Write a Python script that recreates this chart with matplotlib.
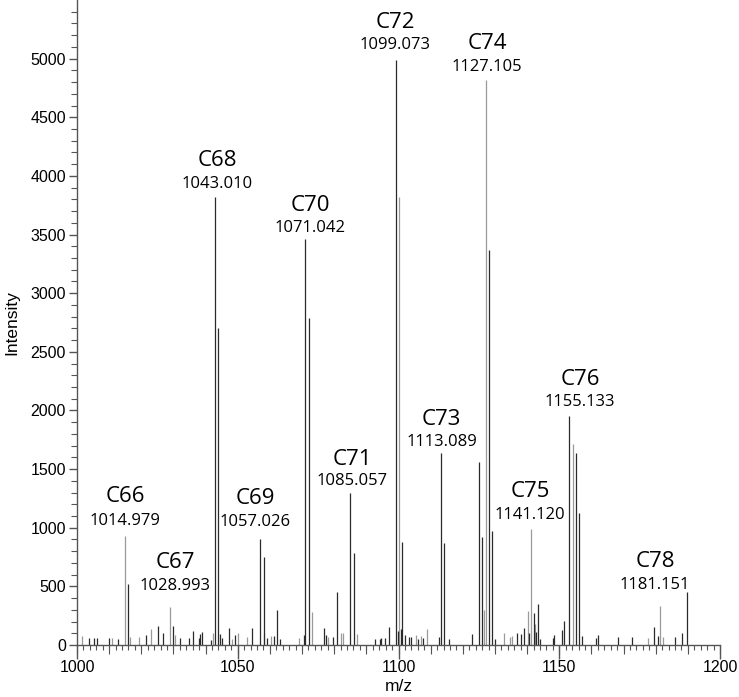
import matplotlib
matplotlib.use("Agg")
import matplotlib.pyplot as plt
from matplotlib.ticker import MultipleLocator, FixedLocator

# ---- data: dark peaks (m/z, intensity) ----
dark_mz = [1003.7, 1005.4, 1006.2, 1009.8, 1012.9, 1015.98, 1021.6, 1025.3, 1026.6, 1029.9,
           1032.0, 1034.9, 1036.1, 1037.8, 1038.4, 1039.0, 1041.6, 1043.01, 1044.01, 1044.5,
           1045.1, 1047.2, 1049.0, 1054.5, 1057.03, 1058.03, 1059.0, 1061.2, 1062.1, 1063.0,
           1070.5, 1071.04, 1072.04, 1076.7, 1077.4, 1079.5, 1081.0, 1085.06, 1086.06, 1092.8,
           1094.2, 1094.7, 1095.9, 1097.1, 1099.07, 1099.7, 1100.9, 1101.08, 1101.9, 1103.2,
           1104.0, 1106.1, 1107.7, 1112.6, 1113.09, 1114.09, 1115.8, 1122.8, 1125.1, 1126.07,
           1128.1, 1129.1, 1130.1, 1136.9, 1138.1, 1139.1, 1140.6, 1142.1, 1142.9, 1143.3,
           1143.9, 1148.0, 1148.4, 1150.8, 1151.6, 1153.13, 1155.2, 1156.2, 1157.2, 1161.4,
           1161.9, 1168.2, 1172.5, 1179.4, 1180.6, 1185.9, 1188.3, 1189.6]
dark_int = [57, 57, 57, 57, 48, 520, 85, 165, 102, 162,
            62, 57, 119, 57, 91, 108, 43, 3820, 2700, 91,
            57, 145, 85, 142, 903, 752, 62, 77, 298, 48,
            85, 3465, 2785, 142, 85, 65, 454, 1292, 781, 51,
            48, 57, 62, 156, 4985, 122, 140, 877, 85, 65,
            65, 48, 62, 71, 1636, 870, 51, 97, 1557, 923,
            3370, 968, 48, 99, 91, 148, 100, 275, 110, 349,
            48, 62, 85, 128, 204, 1953, 1633, 1122, 77, 57,
            85, 71, 65, 150, 80, 71, 99, 454]

# ---- data: light peaks (m/z, intensity) ----
light_mz = [1001.4, 1010.9, 1014.98, 1016.4, 1019.3, 1022.9, 1028.99, 1030.4, 1042.3, 1048.3,
            1050.1, 1052.9, 1058.2, 1060.4, 1069.2, 1073.05, 1078.0, 1082.2, 1082.8, 1087.2,
            1100.07, 1105.3, 1106.9, 1108.9, 1126.6, 1127.1, 1132.7, 1134.6, 1135.2, 1140.2,
            1141.2, 1142.6, 1154.2, 1177.6, 1181.4, 1182.2]
light_int = [77, 62, 931, 70, 68, 136, 327, 85, 105, 51,
             105, 65, 100, 77, 62, 284, 70, 99, 99, 94,
             3823, 85, 77, 139, 300, 4820, 105, 71, 77, 290,
             985, 179, 1718, 62, 332, 71]

# ---- peak labels ----
labels = ["C66", "C67", "C68", "C69", "C70", "C71", "C72", "C73", "C74", "C75", "C76", "C78"]
label_mz = ["1014.979", "1028.993", "1043.010", "1057.026", "1071.042", "1085.057",
            "1099.073", "1113.089", "1127.105", "1141.120", "1155.133", "1181.151"]
# label anchor positions (layout, data coordinates)
lab_x = [1014.9, 1030.5, 1043.6, 1055.4, 1072.5, 1085.5, 1098.9, 1113.4, 1127.6, 1141.0, 1156.5, 1179.8]
lab_y = [1265, 700, 4130, 1250, 3750, 1584, 5307, 1920, 5128, 1310, 2266, 710]
num_y = [1060, 503, 3935, 1045, 3555, 1397, 5119, 1730, 4932, 1107, 2070, 513]

xticks = [1000, 1050, 1100, 1150, 1200]
yticks = [0, 500, 1000, 1500, 2000, 2500, 3000, 3500, 4000, 4500, 5000]

fig = plt.figure(figsize=(7.39, 6.97), dpi=100)
ax = fig.add_axes([0.1042, 0.0746, 0.8701, 0.9254])

ax.vlines(light_mz, 0, light_int, colors="#9a9a9a", linewidth=0.9)
ax.vlines(dark_mz, 0, dark_int, colors="#2a2a2a", linewidth=0.9)

for t, n, x, y1, y2 in zip(labels, label_mz, lab_x, lab_y, num_y):
    ax.text(x, y1, t, ha="center", va="center", fontsize=16, family="Open Sans", color="black")
    ax.text(x, y2, n, ha="center", va="center", fontsize=12, family="Open Sans", color="black")

ax.set_xlim(1000, 1200)
ax.set_ylim(0, 5500)

for s in ["top", "right"]:
    ax.spines[s].set_visible(False)
for s in ["left", "bottom"]:
    ax.spines[s].set_color("#555555")
    ax.spines[s].set_linewidth(1.0)

ax.set_xticks(xticks)
ax.xaxis.set_minor_locator(MultipleLocator(2))
ax.set_yticks(yticks)
ax.yaxis.set_minor_locator(FixedLocator(list(range(0, 5500, 100))))

ax.tick_params(axis="x", which="major", direction="out", length=10, width=1, color="#555555",
               labelsize=11.5, pad=1)
ax.tick_params(axis="x", which="minor", direction="out", length=3.3, width=0.8, color="#555555")
ax.tick_params(axis="y", which="major", direction="out", length=6, width=1, color="#555555",
               labelsize=11.5, pad=2)
ax.tick_params(axis="y", which="minor", direction="out", length=4, width=0.8, color="#555555")
for lab in ax.get_xticklabels() + ax.get_yticklabels():
    lab.set_family("Liberation Sans")

sec = ax.secondary_xaxis("bottom")
sec.set_xticks(list(range(1000, 1201, 10)))
sec.set_xticklabels([])
sec.tick_params(direction="out", length=6.7, width=0.8, color="#555555")
sec.spines["bottom"].set_visible(False)

ax.set_xlabel("m/z", fontsize=12.5, family="Liberation Sans", labelpad=3)
ax.set_ylabel("Intensity", fontsize=12.5, family="Liberation Sans", labelpad=8)

fig.savefig("out.png", dpi=100)
